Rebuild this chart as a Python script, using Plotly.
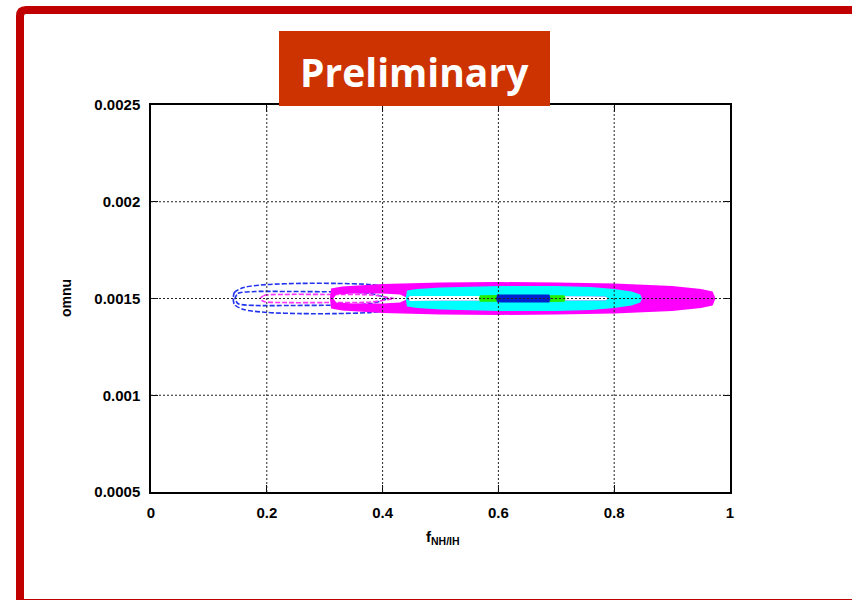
import plotly.graph_objects as go

# ---- axes ----
FNH_TICKS = [0, 0.2, 0.4, 0.6, 0.8, 1]
FNH_LABELS = ["0", "0.2", "0.4", "0.6", "0.8", "1"]
OMNU_TICKS = [0.0005, 0.001, 0.0015, 0.002, 0.0025]
OMNU_LABELS = ["0.0005", "0.001", "0.0015", "0.002", "0.0025"]
OMNU_CENTER = 0.0015

# ---- confidence regions: f_NH/IH positions and omnu half-widths about the centre ----
# filled regions
MAG_X = [0.309, 0.311, 0.33, 0.40, 0.50, 0.60, 0.70, 0.80, 0.90, 0.95, 0.97, 0.975]
MAG_H = [0, 5.2e-5, 6.2e-5, 7.5e-5, 8.3e-5, 8.5e-5, 8.3e-5, 7.8e-5, 6.5e-5, 4.9e-5, 3.6e-5, 0]
MAG_HOLE_X = [0.315, 0.32, 0.35, 0.40, 0.43, 0.445]
MAG_HOLE_H = [0, 2.1e-5, 2.6e-5, 2.6e-5, 2.1e-5, 0]

CYAN_X = [0.440, 0.442, 0.46, 0.50, 0.60, 0.70, 0.76, 0.80, 0.83, 0.845, 0.848]
CYAN_H = [0, 4.1e-5, 4.9e-5, 5.7e-5, 6.5e-5, 6.5e-5, 5.9e-5, 4.9e-5, 3.6e-5, 2.1e-5, 0]
CYAN_HOLE_X = [0.443, 0.447, 0.50, 0.60, 0.70, 0.76, 0.785, 0.79]
CYAN_HOLE_H = [0, 1.3e-5, 1.2e-5, 1.2e-5, 1.2e-5, 1.2e-5, 1.0e-5, 0]

GREEN_X = [0.566, 0.568, 0.60, 0.69, 0.714, 0.716]
GREEN_H = [0, 1.7e-5, 1.8e-5, 1.8e-5, 1.7e-5, 0]

BLUE_X = [0.596, 0.598, 0.64, 0.688, 0.690]
BLUE_H = [0, 2.1e-5, 2.1e-5, 2.1e-5, 0]

# dashed contours
BLUE_OUT_X = [0.142, 0.144, 0.16, 0.20, 0.26, 0.32, 0.38, 0.42, 0.44, 0.445]
BLUE_OUT_H = [0, 3.1e-5, 5.7e-5, 7.2e-5, 7.8e-5, 7.8e-5, 7.2e-5, 5.7e-5, 3.6e-5, 0]
BLUE_IN_X = [0.145, 0.15, 0.18, 0.24, 0.32, 0.38, 0.41]
BLUE_IN_H = [0, 2.6e-5, 3.6e-5, 3.6e-5, 3.4e-5, 2.6e-5, 0]
PINK_X = [0.188, 0.195, 0.23, 0.30, 0.38, 0.42]
PINK_H = [0, 1.55e-5, 2.1e-5, 2.1e-5, 1.8e-5, 0]

# ---- page geometry (pixels) ----
W, H = 852, 600
L, R, T, B = 151, 122, 105, 108
PW, PH = W - L - R, H - T - B


def px(xp):
    return (xp - L) / PW


def py(yp):
    return (H - B - yp) / PH


def outline(xs, hs, reverse=False):
    """Closed loop around OMNU_CENTER from a half-width profile."""
    up = [OMNU_CENTER + h for h in hs]
    lo = [OMNU_CENTER - h for h in hs]
    lx = list(xs) + list(xs[::-1])
    ly = up + lo[::-1]
    if reverse:
        lx, ly = lx[::-1], ly[::-1]
    return lx + [lx[0]], ly + [ly[0]]


def region(xs, hs, holes=()):
    lx, ly = outline(xs, hs)
    for hx, hh in holes:
        ax, ay = outline(hx, hh, reverse=True)
        lx += [None] + ax
        ly += [None] + ay
    return lx, ly


fig = go.Figure()

# dashed contours (below the filled regions)
for xs, hs, col in [(BLUE_OUT_X, BLUE_OUT_H, "#2233ee"),
                    (BLUE_IN_X, BLUE_IN_H, "#2233ee"),
                    (PINK_X, PINK_H, "#ff33ff")]:
    lx, ly = outline(xs, hs)
    fig.add_trace(go.Scatter(x=lx, y=ly, mode="lines",
                             line=dict(color=col, width=1.6, dash="5px,2px",
                                       shape="spline", smoothing=0.8),
                             hoverinfo="skip", showlegend=False))

# filled regions
fills = [
    (MAG_X, MAG_H, [(MAG_HOLE_X, MAG_HOLE_H), (CYAN_HOLE_X, CYAN_HOLE_H)], "#ff00ff"),
    (CYAN_X, CYAN_H, [(CYAN_HOLE_X, CYAN_HOLE_H)], "#00ffff"),
    (GREEN_X, GREEN_H, [], "#22ee00"),
    (BLUE_X, BLUE_H, [], "#0022cc"),
]
for xs, hs, holes, col in fills:
    lx, ly = region(xs, hs, holes)
    fig.add_trace(go.Scatter(x=lx, y=ly, mode="lines", fill="toself",
                             fillcolor=col, line=dict(width=0, color=col),
                             hoverinfo="skip", showlegend=False))

tickfont = dict(family="Liberation Sans, Arial, sans-serif", size=15,
                color="black", weight="bold")

fig.update_layout(
    width=W, height=H,
    margin=dict(l=L, r=R, t=T, b=B, pad=0),
    paper_bgcolor="white", plot_bgcolor="white",
    showlegend=False,
    xaxis=dict(range=[0, 1], tickvals=FNH_TICKS, ticktext=FNH_LABELS,
               showgrid=False, zeroline=False, showline=True, linecolor="black",
               linewidth=1.5, mirror="ticks", ticks="inside", ticklen=7,
               tickcolor="black", tickfont=tickfont, ticklabelstandoff=6),
    yaxis=dict(range=[0.0005, 0.0025], tickvals=OMNU_TICKS, ticktext=OMNU_LABELS,
               showgrid=False, zeroline=False, showline=True, linecolor="black",
               linewidth=1.5, mirror="ticks", ticks="inside", ticklen=7,
               tickcolor="black", tickfont=tickfont, ticklabelstandoff=6),
)

# dotted grid drawn over the regions
grid = dict(color="#222222", width=1, dash="2px,2px")
for v in FNH_TICKS[1:-1]:
    fig.add_shape(type="line", xref="x", yref="paper", x0=v, x1=v, y0=0, y1=1,
                  line=grid, layer="above")
for v in OMNU_TICKS[1:-1]:
    fig.add_shape(type="line", xref="paper", yref="y", x0=0, x1=1, y0=v, y1=v,
                  line=grid, layer="above")

# axis titles
fig.add_annotation(text="omnu", xref="paper", yref="paper", x=px(66), y=py(298),
                   xanchor="center", yanchor="middle",
                   textangle=-90, showarrow=False,
                   font=dict(family="Liberation Sans, Arial, sans-serif", size=14,
                             color="black", weight="bold"))
fig.add_annotation(text="f<sub>NH/IH</sub>", xref="paper", yref="paper",
                   x=px(443), y=py(537), xanchor="center", yanchor="middle",
                   showarrow=False,
                   font=dict(family="Liberation Sans, Arial, sans-serif", size=15,
                             color="black", weight="bold"))

# slide frame
r_x, r_y = 6 / PW, 6 / PH
fx0, fy1 = px(20), py(10)
fx1, fy0 = px(880), py(603)
frame_path = (f"M {fx0},{fy0} L {fx0},{fy1 - r_y} Q {fx0},{fy1} {fx0 + r_x},{fy1} "
              f"L {fx1},{fy1} L {fx1},{fy0} Z")
fig.add_shape(type="path", xref="paper", yref="paper", path=frame_path,
              line=dict(color="#c00000", width=8), layer="above")

# "Preliminary" badge
fig.add_shape(type="rect", xref="paper", yref="paper",
              x0=px(279), x1=px(550), y0=py(106), y1=py(31),
              fillcolor="#cc3300", line=dict(width=0), layer="above")
fig.add_annotation(text="Preliminary", xref="paper", yref="paper",
                   x=px(414.5), y=py(71), xanchor="center", yanchor="middle",
                   showarrow=False,
                   font=dict(family="Open Sans, sans-serif", size=39,
                             color="white", weight="bold"))

fig.write_html("out.html")
